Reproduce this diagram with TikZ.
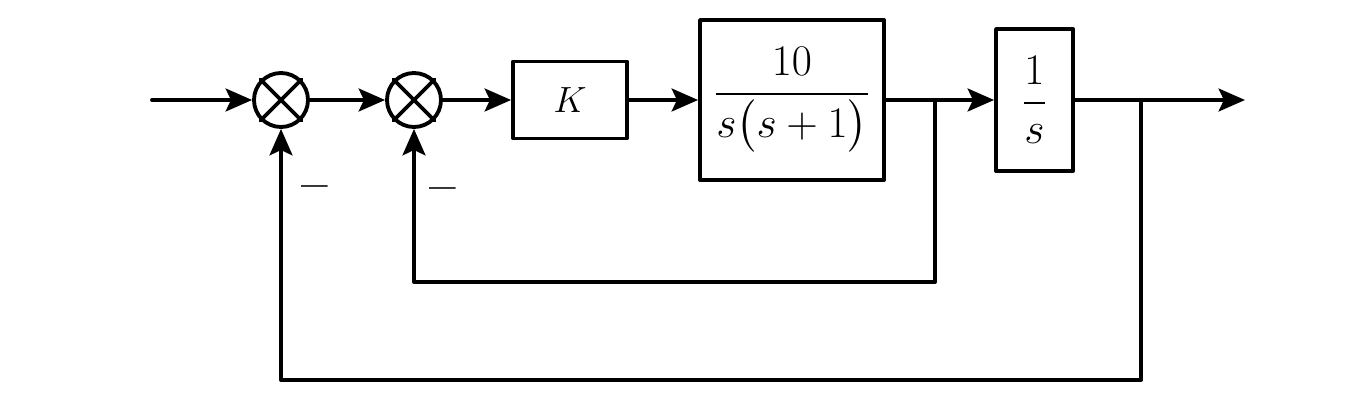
\documentclass[tikz,border=0pt]{standalone}
\usepackage{amsmath}
\usepackage{tikz}
\usetikzlibrary{shapes,arrows.meta}
\tikzstyle{every node}=[font=\fontsize{27}{32}\selectfont]
\tikzstyle{every path}=[line width=2.2pt,line cap=round,line join=round]
\tikzstyle{block}=[draw, rectangle, inner sep=0pt, line width=2.2pt]
\tikzstyle{sumnode}=[draw, circle, minimum size=1.08cm, inner sep=0pt, line width=2.2pt]
\tikzstyle{pfeil}=[-{Stealth[length=15pt,width=13pt,inset=3pt]}]

\begin{document}
\begin{tikzpicture}
\useasboundingbox (0,0) rectangle (26.92,8.08);

\node [sumnode] (sum1) at (5.62,6.08) {};
\node [sumnode] (sum2) at (8.28,6.08) {};
\draw (sum1.north west) -- (sum1.south east);
\draw (sum1.north east) -- (sum1.south west);
\draw (sum2.north west) -- (sum2.south east);
\draw (sum2.north east) -- (sum2.south west);

\node [block, minimum width=2.28cm, minimum height=1.54cm] (kblock) at (11.4,6.08) {\fontsize{22}{26}\selectfont $K$};
\node [block, minimum width=3.68cm, minimum height=3.2cm] (gblock) at (15.84,6.08) {$\dfrac{10}{s\big(s+1\big)}$};
\node [block, minimum width=1.54cm, minimum height=2.84cm] (iblock) at (20.69,6.08) {$\dfrac{1}{s}$};

\coordinate (in) at (3.04,6.08);
\coordinate (out) at (24.9,6.08);
\coordinate (b1) at (18.7,6.08);
\coordinate (b2) at (22.82,6.08);

\draw [pfeil] (in) -- (sum1.west);
\draw [pfeil] (sum1.east) -- (sum2.west);
\draw [pfeil] (sum2.east) -- (kblock.west);
\draw [pfeil] (kblock.east) -- (gblock.west);
\draw [pfeil] (gblock.east) -- (iblock.west);
\draw [pfeil] (iblock.east) -- (out);
\draw [pfeil] (b1) -- ++(0,-3.64) -| (sum2.south);
\draw [pfeil] (b2) -- ++(0,-5.6) -| (sum1.south);

\node (m1) at (6.3,4.22) {\bfseries --};
\node (m2) at (8.86,4.18) {\bfseries --};
\end{tikzpicture}
\end{document}
